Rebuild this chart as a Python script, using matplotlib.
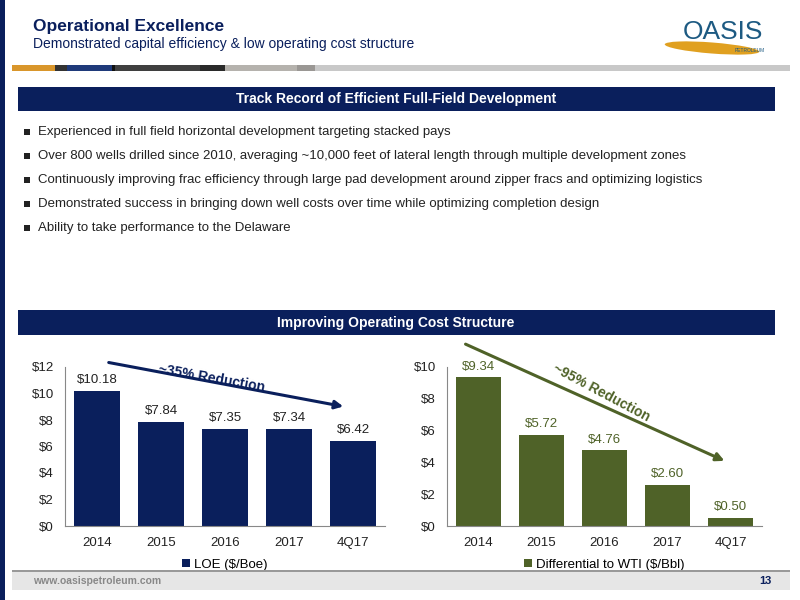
import matplotlib.pyplot as plt
from matplotlib.patches import Rectangle, Ellipse

plt.rcParams['font.family'] = ['Liberation Sans', 'DejaVu Sans']

NAVY = '#0a1f5c'
GREEN = '#4f6228'

categories = ['2014', '2015', '2016', '2017', '4Q17']
loe = [10.18, 7.84, 7.35, 7.34, 6.42]
diff_wti = [9.34, 5.72, 4.76, 2.60, 0.50]

bullets = [
    'Experienced in full field horizontal development targeting stacked pays',
    'Over 800 wells drilled since 2010, averaging ~10,000 feet of lateral length through multiple development zones',
    'Continuously improving frac efficiency through large pad development around zipper fracs and optimizing logistics',
    'Demonstrated success in bringing down well costs over time while optimizing completion design',
    'Ability to take performance to the Delaware',
]

fig = plt.figure(figsize=(8, 6), dpi=100)
W, H = 800, 600


def fx(x):
    return x / W


def fy(y):
    return 1 - y / H


def box(x0, y0, x1, y1, color):
    fig.patches.append(Rectangle((fx(x0), fy(y1)), fx(x1 - x0), (y1 - y0) / H,
                                 transform=fig.transFigure, color=color, lw=0))


# left bar and header
box(0, 0, 5, 600, NAVY)
fig.text(fx(33), fy(27), 'Operational Excellence', color=NAVY, fontsize=12.5, fontweight='bold', va='center')
fig.text(fx(33), fy(44), 'Demonstrated capital efficiency & low operating cost structure', color=NAVY, fontsize=10, va='center')

# stripe
for x0, x1, c in [(12, 55, '#d9962b'), (55, 67, '#333333'), (67, 112, '#1f3a7a'), (112, 115, '#111111'),
                  (115, 200, '#3f3f3f'), (200, 225, '#2a2a2a'), (225, 297, '#b5b2ad'), (297, 315, '#9a9794'),
                  (315, 790, '#c8c8c8')]:
    box(x0, 65, x1, 71, c)

# logo
fig.patches.append(Ellipse((fx(712), fy(48)), fx(95), 11 / H, angle=-6, transform=fig.transFigure,
                           color='#e0a020', lw=0))
fig.text(fx(723), fy(32), 'OASIS', color='#1d5a82', fontsize=19, ha='center', va='center')
fig.text(fx(750), fy(50), 'PETROLEUM', color='#1d5a82', fontsize=3.5, ha='center', va='center')

# section headers
for y0, y1, t in [(87, 111, 'Track Record of Efficient Full-Field Development'),
                  (310, 335, 'Improving Operating Cost Structure')]:
    box(18, y0, 775, y1, NAVY)
    fig.text(fx(396), fy((y0 + y1) / 2), t, color='white', fontsize=10, fontweight='bold', ha='center', va='center')

for i, b in enumerate(bullets):
    y = 132 + 24 * i
    fig.patches.append(Rectangle((fx(24), fy(y + 3)), fx(6), 6 / H, transform=fig.transFigure,
                                 color='#222222', lw=0))
    fig.text(fx(38), fy(y), b, color='#222222', fontsize=9.5, va='center')


def chart(x0, x1, vals, color, ymax, label, label_color):
    ax = fig.add_axes([fx(x0), fy(526), fx(x1 - x0), (526 - 367) / H])
    ax.bar(range(len(vals)), vals, width=0.72, color=color)
    ax.set_xlim(-0.5, len(vals) - 0.5)
    ax.set_ylim(0, ymax)
    ax.set_yticks(range(0, ymax + 1, 2))
    ax.set_yticklabels(['$%d' % v for v in range(0, ymax + 1, 2)])
    ax.set_xticks(range(len(vals)))
    ax.set_xticklabels(categories)
    for s in ['top', 'right']:
        ax.spines[s].set_visible(False)
    for s in ['left', 'bottom']:
        ax.spines[s].set_color('#888888')
    ax.tick_params(length=0, labelsize=9.5, colors='#222222', pad=8)
    for i, v in enumerate(vals):
        ax.text(i, v + ymax * 0.03, '$%.2f' % v, ha='center', va='bottom', fontsize=9.5, color=label_color)
    ax.bar([0], [0], color=color, label=label)
    ax.legend(loc='upper center', bbox_to_anchor=(0.5, -0.13), frameon=False, fontsize=9.5,
              handlelength=0.6, handleheight=0.6, handletextpad=0.3)
    return ax


ax1 = chart(65, 385, loe, NAVY, 12, 'LOE ($/Boe)', '#222222')
ax2 = chart(447, 762, diff_wti, GREEN, 10, 'Differential to WTI ($/Bbl)', GREEN)

ann = dict(xycoords='figure fraction', textcoords='figure fraction')
ax1.annotate('', xy=(fx(346), fy(407)), xytext=(fx(106), fy(362)),
             arrowprops=dict(arrowstyle='-|>', color=NAVY, lw=2.2, mutation_scale=12), **ann)
fig.text(fx(212), fy(378), '~35% Reduction', color=NAVY, fontsize=10, fontweight='bold', rotation=-10,
         ha='center', va='center')
ax2.annotate('', xy=(fx(727), fy(462)), xytext=(fx(463), fy(343)),
             arrowprops=dict(arrowstyle='-|>', color=GREEN, lw=2.2, mutation_scale=12), **ann)
fig.text(fx(601), fy(393), '~95% Reduction', color=GREEN, fontsize=10, fontweight='bold', rotation=-28,
         ha='center', va='center')

# footer
box(12, 570, 790, 572, '#999999')
box(12, 572, 790, 590, '#e6e6e6')
fig.text(fx(33), fy(581), 'www.oasispetroleum.com', color='#888888', fontsize=7.5, fontweight='bold', va='center')
fig.text(fx(772), fy(581), '13', color=NAVY, fontsize=8, fontweight='bold', ha='right', va='center')

fig.savefig('out.png', dpi=100)
